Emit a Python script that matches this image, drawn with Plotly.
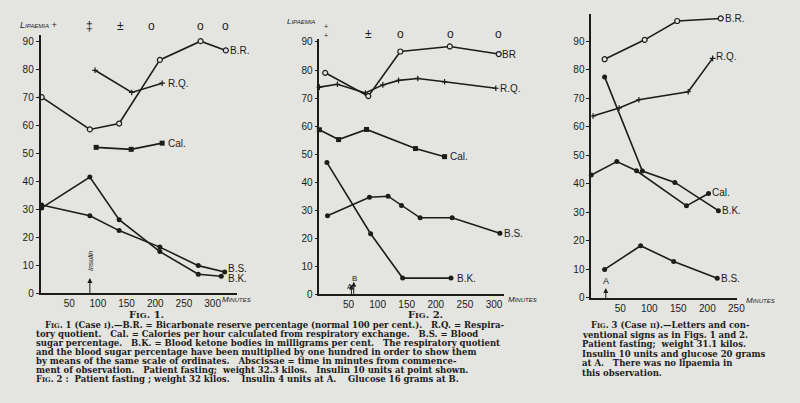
import plotly.graph_objects as go

W, H = 800, 403
BG = "#e4e4e0"
INK = "#1c1c1c"

# ---------------- data ----------------
# Fig. 1
p1_br_x = [2, 86, 137, 208, 279, 323]
p1_br_y = [70, 58.5, 60.6, 83.3, 90, 86.7]
p1_rq_x = [95, 159, 212]
p1_rq_y = [79.6, 71.7, 75]
p1_cal_x = [97, 158, 212]
p1_cal_y = [52.1, 51.4, 53.6]
p1_bs_x = [2, 86, 137, 208, 275, 321]
p1_bs_y = [31.5, 27.7, 22.4, 16.5, 9.9, 7.6]
p1_bk_x = [2, 86, 137, 208, 275, 315]
p1_bk_y = [30.5, 41.5, 26.3, 14.9, 6.8, 6.1]
p1_lip_x = [85, 139, 194, 279, 323]
p1_lip_s = ["‡", "±", "o", "o", "o"]

# Fig. 2
p2_br_x = [10, 84, 139, 224, 308]
p2_br_y = [79, 70.7, 86.6, 88.4, 85.7]
p2_rq_x = [0, 31, 79, 109, 136, 169, 215, 303]
p2_rq_y = [73.9, 74.9, 71.8, 74.7, 76.3, 77, 75.8, 73.5]
p2_cal_x = [0, 33, 81, 165, 215]
p2_cal_y = [58.7, 55.2, 58.8, 52, 49.1]
p2_bs_x = [14, 86, 118, 141, 173, 228, 310]
p2_bs_y = [28, 34.6, 35, 31.7, 27.3, 27.3, 21.8]
p2_bk_x = [13, 88, 143, 226]
p2_bk_y = [47, 21.6, 5.8, 5.8]
p2_lip_x = [84, 139, 225, 308]
p2_lip_s = ["±", "o", "o", "o"]

# Fig. 3
p3_br_x = [23, 92, 148, 223]
p3_br_y = [83.7, 90.5, 97.1, 98]
p3_rq_x = [3, 48, 82, 167, 209]
p3_rq_y = [63.8, 66.6, 69.5, 72.3, 84]
p3_bk_x = [23, 88, 144, 219]
p3_bk_y = [77.5, 44.5, 40.5, 30.6]
p3_cal_x = [0, 44, 78, 164, 202]
p3_cal_y = [43.1, 47.8, 44.6, 32.3, 36.6]
p3_bs_x = [23, 85, 142, 217]
p3_bs_y = [10, 18.3, 12.8, 6.9]

y_ticks = [0, 10, 20, 30, 40, 50, 60, 70, 80, 90]
x_ticks_12 = [50, 100, 150, 200, 250, 300]
x_ticks_3 = [50, 100, 150, 200, 250]

SC = "<span style='font-size:6.5px'>%s</span>"
caption_main = [
    "F" + SC % "IG" + ". 1 (Case " + SC % "I" + ").—B.R. = Bicarbonate reserve percentage (normal 100 per cent.).   R.Q. = Respira-",
    "tory quotient.   Cal. = Calories per hour calculated from respiratory exchange.   B.S. = Blood",
    "sugar percentage.   B.K. = Blood ketone bodies in milligrams per cent.   The respiratory quotient",
    "and the blood sugar percentage have been multiplied by one hundred in order to show them",
    "by means of the same scale of ordinates.   Abscissae = time in minutes from commence-",
    "ment of observation.   Patient fasting;  weight 32.3 kilos.   Insulin 10 units at point shown.",
    "F" + SC % "IG" + ". 2 :  Patient fasting ; weight 32 kilos.    Insulin 4 units at A.    Glucose 16 grams at B.",
]
caption_fig3 = [
    "F" + SC % "IG" + ". 3 (Case " + SC % "II" + ").—Letters and con-",
    "ventional signs as in Figs. 1 and 2.",
    "Patient fasting;  weight 31.1 kilos.",
    "Insulin 10 units and glucose 20 grams",
    "at A.   There was no lipaemia in",
    "this observation.",
]

# ---------------- panel geometry (pixels) ----------------
P1 = dict(l=41, r=240, b=297, t=33, xr=343, yr=92.1)
P2 = dict(l=323, r=510, b=298, t=37, xr=317.5, yr=91)
P3 = dict(l=598, r=745, b=301.7, t=11.7, xr=250.4, yr=99.4)

def xdom(p):
    return [p["l"] / W, p["r"] / W]

def ydom(p):
    return [(H - p["b"]) / H, (H - p["t"]) / H]

def to_px(p, x, y):
    return (p["l"] + x * (p["r"] - p["l"]) / p["xr"],
            p["b"] - y * (p["b"] - p["t"]) / p["yr"])

fig = go.Figure()

def add(xs, ys, ax, symbol, open_=False):
    n = "" if ax == 1 else str(ax)
    if open_:
        marker = dict(symbol="circle", size=5, color=BG, line=dict(color=INK, width=1.2))
    elif symbol == "cross-thin":
        marker = dict(symbol="cross-thin", size=4, color=INK, line=dict(color=INK, width=1.2))
    else:
        marker = dict(symbol=symbol, size=5, color=INK)
    fig.add_trace(go.Scatter(x=xs, y=ys, mode="lines+markers", xaxis="x" + n, yaxis="y" + n,
                             line=dict(color=INK, width=1.6), marker=marker,
                             showlegend=False, hoverinfo="skip", cliponaxis=False))

add(p1_br_x, p1_br_y, 1, "circle", True)
add(p1_rq_x, p1_rq_y, 1, "cross-thin")
add(p1_cal_x, p1_cal_y, 1, "square")
add(p1_bs_x, p1_bs_y, 1, "circle")
add(p1_bk_x, p1_bk_y, 1, "circle")

add(p2_br_x, p2_br_y, 2, "circle", True)
add(p2_rq_x, p2_rq_y, 2, "cross-thin")
add(p2_cal_x, p2_cal_y, 2, "square")
add(p2_bs_x, p2_bs_y, 2, "circle")
add(p2_bk_x, p2_bk_y, 2, "circle")

add(p3_br_x, p3_br_y, 3, "circle", True)
add(p3_rq_x, p3_rq_y, 3, "cross-thin")
add(p3_bk_x, p3_bk_y, 3, "circle")
add(p3_cal_x, p3_cal_y, 3, "circle")
add(p3_bs_x, p3_bs_y, 3, "circle")

TF = dict(family="Liberation Sans", size=10, color=INK)

def xaxis(p, ticks, anchor):
    return dict(domain=xdom(p), range=[0, p["xr"]], showline=True, linecolor=INK, linewidth=1.6,
                showgrid=False, zeroline=False, tickvals=ticks, ticks="", ticklen=0,
                tickfont=TF, anchor=anchor, fixedrange=True)

def yaxis(p, ticks, anchor):
    return dict(domain=ydom(p), range=[0, p["yr"]], showline=True, linecolor=INK, linewidth=1.6,
                showgrid=False, zeroline=False, tickvals=ticks, ticks="outside", ticklen=3,
                tickcolor=INK, tickfont=TF, anchor=anchor, fixedrange=True)

fig.update_layout(
    width=W, height=H, margin=dict(l=0, r=0, t=0, b=0),
    paper_bgcolor=BG, plot_bgcolor="rgba(0,0,0,0)",
    xaxis=xaxis(P1, x_ticks_12, "y"),
    yaxis=yaxis(P1, y_ticks, "x"),
    xaxis2=xaxis(P2, x_ticks_12, "y2"),
    yaxis2=yaxis(P2, y_ticks, "x2"),
    xaxis3=xaxis(P3, x_ticks_3, "y3"),
    yaxis3=yaxis(P3, y_ticks, "x3"),
)

ann = []

def lab(text, x, y, ax, size=10, xanchor="left"):
    n = "" if ax == 1 else str(ax)
    ann.append(dict(text=text, x=x, y=y, xref="x" + n, yref="y" + n, showarrow=False,
                    xanchor=xanchor, yanchor="middle",
                    font=dict(family="Liberation Sans", size=size, color=INK)))

def ptext(text, x, y, size=8, xanchor="left", italic=False, angle=0,
          family="Liberation Sans", yanchor="middle"):
    if italic:
        text = "<i>" + text + "</i>"
    ann.append(dict(text=text, x=x / W, y=(H - y) / H, xref="paper", yref="paper", showarrow=False,
                    xanchor=xanchor, yanchor=yanchor, textangle=angle,
                    font=dict(family=family, size=size, color=INK)))

# series labels
lab("B.R.", p1_br_x[-1] + 4, p1_br_y[-1], 1)
lab("R.Q.", p1_rq_x[-1] + 6, p1_rq_y[-1], 1)
lab("Cal.", p1_cal_x[-1] + 6, p1_cal_y[-1], 1)
lab("B.S.", p1_bs_x[-1] + 2, p1_bs_y[-1] + 1.2, 1)
lab("B.K.", p1_bk_x[-1] + 8, p1_bk_y[-1] - 0.9, 1)

lab("BR", p2_br_x[-1] + 3, p2_br_y[-1], 2)
lab("R.Q.", p2_rq_x[-1] + 4, p2_rq_y[-1], 2)
lab("Cal.", p2_cal_x[-1] + 6, p2_cal_y[-1], 2)
lab("B.S.", p2_bs_x[-1] + 3, p2_bs_y[-1], 2)
lab("B.K.", p2_bk_x[-1] + 7, p2_bk_y[-1], 2)

lab("B.R.", p3_br_x[-1] + 4, p3_br_y[-1], 3)
lab("R.Q.", p3_rq_x[-1] + 3, p3_rq_y[-1] + 0.5, 3)
lab("Cal.", p3_cal_x[-1] + 3, p3_cal_y[-1] + 0.5, 3)
lab("B.K.", p3_bk_x[-1] + 3, p3_bk_y[-1], 3)
lab("B.S.", p3_bs_x[-1] + 3, p3_bs_y[-1], 3)

# lipaemia rows (above the axes, so placed in paper pixels)
for xv, s in zip(p1_lip_x, p1_lip_s):
    px, py = to_px(P1, xv, 95.5)
    ptext(s, px, py, size=12, xanchor="center")
for xv, s in zip(p2_lip_x, p2_lip_s):
    px, py = to_px(P2, xv, 92.7)
    ptext(s, px, py, size=12, xanchor="center")

ptext("L<span style='font-size:6px'>IPAEMIA</span> +", 18, 23, size=9, italic=True)
ptext("L<span style='font-size:6px'>IPAEMIA</span>", 321, 19, size=8, italic=True, xanchor="right")
ptext("+<br>+", 330, 29, size=7, xanchor="center")

# Minutes labels
ptext("M<span style='font-size:6px'>INUTES</span>", 223, 303, size=8, italic=True)
ptext("M<span style='font-size:6px'>INUTES</span>", 512, 303, size=8, italic=True)
ptext("M<span style='font-size:6px'>INUTES</span>", 752, 304, size=8, italic=True)

# Insulin arrow (Fig. 1)
ann.append(dict(x=86, y=0, xref="x", yref="y", ax=86, ay=6, axref="x", ayref="y", text="",
                showarrow=True, arrowhead=0, arrowwidth=1, arrowcolor=INK,
                startarrowhead=2, arrowside="start"))
ann.append(dict(x=86, y=11.5, xref="x", yref="y", text="<i>Insulin</i>", textangle=-90,
                showarrow=False, font=dict(family="Liberation Sans", size=7, color=INK)))
# A & B markers (Fig. 2)
ann.append(dict(x=55, y=0, xref="x2", yref="y2", ax=55, ay=4, axref="x2", ayref="y2", text="",
                showarrow=True, arrowhead=0, arrowwidth=1, arrowcolor=INK,
                startarrowhead=2, arrowside="start"))
ann.append(dict(x=59, y=0, xref="x2", yref="y2", ax=59, ay=5, axref="x2", ayref="y2", text="",
                showarrow=True, arrowhead=0, arrowwidth=1, arrowcolor=INK,
                startarrowhead=2, arrowside="start"))
lab("A", 52, 2.9, 2, size=8, xanchor="center")
lab("B", 61, 5.6, 2, size=8, xanchor="center")
# A marker (Fig. 3)
ann.append(dict(x=25, y=0, xref="x3", yref="y3", ax=25, ay=4, axref="x3", ayref="y3", text="",
                showarrow=True, arrowhead=0, arrowwidth=1, arrowcolor=INK,
                startarrowhead=2, arrowside="start"))
lab("A", 25, 6, 3, size=9, xanchor="center")

# figure titles
SERIF = "DejaVu Serif"
ptext("<b>F<span style='font-size:8px'>IG</span>. 1.</b>", 148, 318.5, size=10, xanchor="center", family=SERIF)
ptext("<b>F<span style='font-size:8px'>IG</span>. 2.</b>", 430, 318.5, size=10, xanchor="center", family=SERIF)

# captions
for i, line in enumerate(caption_main):
    ptext("<b>" + line + "</b>", 43 if i == 0 else 34, 329.5 + i * 9.1, size=8.5, family=SERIF)
for i, line in enumerate(caption_fig3):
    ptext("<b>" + line + "</b>", 596 if i == 0 else 587, 329.5 + i * 9.8, size=8.5, family=SERIF)

fig.update_layout(annotations=ann)
fig.write_html("out.html")
